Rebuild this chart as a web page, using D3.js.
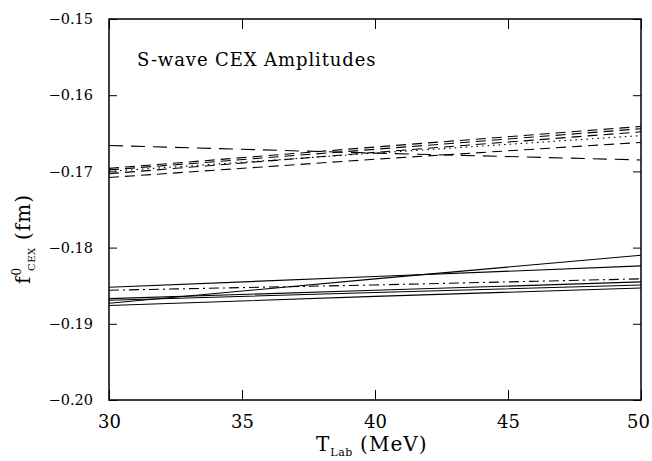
<!DOCTYPE html>
<html>
<head>
<meta charset="utf-8">
<script src="https://cdn.jsdelivr.net/npm/d3@7"></script>
<style>
  body { margin: 0; background: #fff; }
  text { font-family: "DejaVu Serif", serif; fill: #000; }
</style>
</head>
<body>
<div id="chart"></div>
<script>
// T_Lab sample points (MeV)
const tLab = [30, 40, 50];

// upper group (dashed / dotted)
const longDash = [-0.1666, -0.1676, -0.1685];
const dashB = [-0.1696, -0.1668, -0.1641];
const dashC = [-0.1698, -0.1671, -0.1644];
const dashD = [-0.1703, -0.1675, -0.1648];
const dashE = [-0.1708, -0.1684, -0.1662];
const dotted = [-0.1700, -0.1676, -0.1653];

// lower group (solid / dash-dot)
const solid1 = [-0.1852, -0.1838, -0.1824];
const solid2 = [-0.1873, -0.1841, -0.1810];
const solid3 = [-0.1867, -0.1856, -0.1845];
const solid4 = [-0.1869, -0.1859, -0.1849];
const solid5 = [-0.1876, -0.1864, -0.1853];
const dashDot = [-0.1856, -0.1849, -0.1841];

const xTicks = [30, 35, 40, 45, 50];
const yTicks = [-0.20, -0.19, -0.18, -0.17, -0.16, -0.15];

const curves = [
  { values: longDash, dash: "14,8" },
  { values: dashB, dash: "10,6" },
  { values: dashC, dash: "10,6" },
  { values: dashD, dash: "10,6" },
  { values: dashE, dash: "10,6" },
  { values: dotted, dash: "1.5,4" },
  { values: solid1, dash: null },
  { values: solid2, dash: null },
  { values: solid3, dash: null },
  { values: solid4, dash: null },
  { values: solid5, dash: null },
  { values: dashDot, dash: "10,4,2,4" }
];

const width = 652, height = 461;
const margin = { top: 19, right: 11, bottom: 61, left: 109 };
const innerW = width - margin.left - margin.right;
const innerH = height - margin.top - margin.bottom;

const svg = d3.select("#chart").append("svg")
  .attr("width", width)
  .attr("height", height);

const g = svg.append("g")
  .attr("transform", `translate(${margin.left},${margin.top})`);

const x = d3.scaleLinear().domain([30, 50]).range([0, innerW]);
const y = d3.scaleLinear().domain([-0.20, -0.15]).range([innerH, 0]);

// axes, ticks pointing inward
const xAxis = g.append("g")
  .attr("transform", `translate(0,${innerH})`)
  .call(d3.axisBottom(x).tickValues(xTicks).tickSize(-10).tickSizeOuter(0).tickPadding(15).tickFormat(d3.format("d")));
xAxis.selectAll("text").attr("font-size", 18).attr("dy", "0.71em");
// keep the last label inside the window
xAxis.selectAll(".tick").filter(d => d === 50).select("text").attr("dx", -3);

g.append("g")
  .call(d3.axisTop(x).tickValues(xTicks).tickSize(-10).tickSizeOuter(0).tickFormat(""));

const yAxis = g.append("g")
  .call(d3.axisLeft(y).tickValues(yTicks).tickSize(-8).tickSizeOuter(0).tickPadding(16).tickFormat(d3.format(".2f")));
yAxis.selectAll("text").attr("font-size", 14.5);

g.append("g")
  .attr("transform", `translate(${innerW},0)`)
  .call(d3.axisRight(y).tickValues(yTicks).tickSize(-8).tickSizeOuter(0).tickFormat(""));

g.selectAll(".domain").remove();
g.selectAll(".tick line").attr("stroke", "#000").attr("stroke-width", 1);
g.selectAll(".tick text").style("font-family", "DejaVu Serif, serif");

// frame
g.append("rect")
  .attr("width", innerW)
  .attr("height", innerH)
  .attr("fill", "none")
  .attr("stroke", "#000")
  .attr("stroke-width", 1.5);

// curves
const line = d3.line()
  .x((d, i) => x(tLab[i]))
  .y(d => y(d));

g.selectAll("path.curve")
  .data(curves)
  .join("path")
  .attr("class", "curve")
  .attr("fill", "none")
  .attr("stroke", "#000")
  .attr("stroke-width", 1.1)
  .attr("stroke-dasharray", d => d.dash)
  .attr("d", d => line(d.values));

// title
svg.append("text")
  .attr("x", 137)
  .attr("y", 66)
  .attr("font-size", 18)
  .attr("letter-spacing", 0.9)
  .text("S-wave CEX Amplitudes");

// x label
const xl = svg.append("text")
  .attr("x", 316)
  .attr("y", 451)
  .attr("font-size", 20)
  .attr("letter-spacing", 1);
xl.append("tspan").text("T");
xl.append("tspan").attr("font-size", 11).attr("dy", 5).attr("letter-spacing", 0.5).text("Lab");
xl.append("tspan").attr("dy", -5).text(" (MeV)");

// y label
const yl = svg.append("text")
  .attr("transform", "translate(30,284) rotate(-90)")
  .attr("font-size", 20)
  .attr("letter-spacing", 1);
yl.append("tspan").text("f");
yl.append("tspan").attr("font-size", 12).attr("dy", -9).text("0");
yl.append("tspan").attr("font-size", 10).attr("dx", -4).attr("dy", 14).attr("letter-spacing", 0.5).text("CEX");
yl.append("tspan").attr("dy", -5).text("  (fm)");
</script>
</body>
</html>
